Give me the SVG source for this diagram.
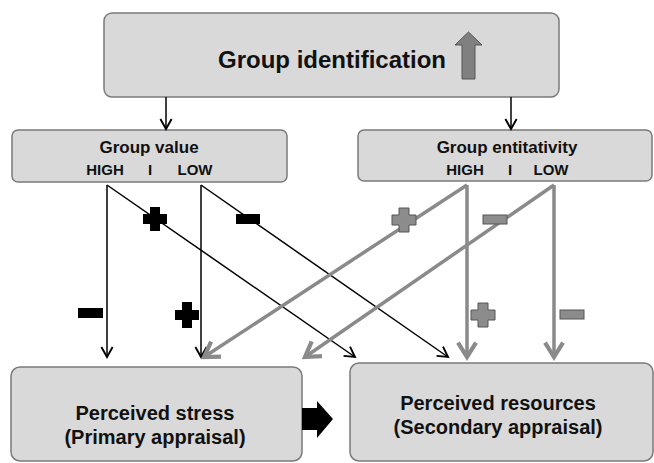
<svg xmlns="http://www.w3.org/2000/svg" width="654" height="463" viewBox="0 0 654 463">
<style>
.box{fill:#d9d9d9;stroke:#7a7a7a;stroke-width:1.5}
.t{font-family:"Liberation Sans",Arial,sans-serif;font-weight:bold;fill:#111;text-anchor:middle}
.bl{stroke:#000;stroke-width:1.5;fill:none}
.gr{stroke:#8a8a8a;stroke-width:3.5;fill:none}
.sb{fill:#000}
.sg{fill:#8c8c8c;stroke:#555;stroke-width:1}
</style>
<defs>
<marker id="ab" markerUnits="userSpaceOnUse" markerWidth="20" markerHeight="20" viewBox="-12 -8 14 16" refX="0" refY="0" orient="auto">
<path d="M-8,-4.5 L0,0 L-8,4.5" fill="none" stroke="#000" stroke-width="1.5"/>
</marker>
<marker id="ag" markerUnits="userSpaceOnUse" markerWidth="24" markerHeight="24" viewBox="-16 -10 18 20" refX="0" refY="0" orient="auto">
<path d="M-12,-7.5 L0,0 L-12,7.5" fill="none" stroke="#8a8a8a" stroke-width="3.5"/>
</marker>
</defs>

<g id="group-identification">
<rect class="box" x="104" y="13" width="455" height="84" rx="8"/>
<text class="t" x="332" y="68" font-size="24">Group identification</text>
<polygon points="462,79 475,79 475,45 482,45 468.5,32 455,45 462,45" fill="#808080" stroke="#555" stroke-width="1"/>
</g>

<g id="group-value">
<rect class="box" x="12" y="130" width="275" height="52" rx="6"/>
<text class="t" x="149" y="153" font-size="17">Group value</text>
<text class="t" x="105" y="175" font-size="15">HIGH</text>
<text class="t" x="150" y="175" font-size="15">I</text>
<text class="t" x="195" y="175" font-size="15">LOW</text>
</g>

<g id="group-entitativity">
<rect class="box" x="358" y="130" width="294" height="51" rx="6"/>
<text class="t" x="507" y="153" font-size="17">Group entitativity</text>
<text class="t" x="465" y="175" font-size="15">HIGH</text>
<text class="t" x="510" y="175" font-size="15">I</text>
<text class="t" x="551" y="175" font-size="15">LOW</text>
</g>

<g id="perceived-stress">
<rect class="box" x="11" y="367" width="291" height="94" rx="9"/>
<text class="t" x="155" y="420" font-size="20">Perceived stress</text>
<text class="t" x="155" y="444" font-size="20">(Primary appraisal)</text>
</g>

<g id="perceived-resources">
<rect class="box" x="350" y="363" width="303" height="98" rx="9"/>
<text class="t" x="498" y="410" font-size="20">Perceived resources</text>
<text class="t" x="498" y="434" font-size="20">(Secondary appraisal)</text>
</g>

<g id="connectors">
<line class="bl" x1="166" y1="97" x2="166" y2="129" marker-end="url(#ab)"/>
<line class="bl" x1="511" y1="97" x2="511" y2="129" marker-end="url(#ab)"/>
<line class="bl" x1="107" y1="185" x2="107" y2="357" marker-end="url(#ab)"/>
<line class="bl" x1="107" y1="185" x2="355" y2="357" marker-end="url(#ab)"/>
<line class="bl" x1="201" y1="185" x2="201" y2="357" marker-end="url(#ab)"/>
<line class="bl" x1="201" y1="185" x2="448" y2="357" marker-end="url(#ab)"/>
<line class="gr" x1="467" y1="185" x2="467" y2="357" marker-end="url(#ag)"/>
<line class="gr" x1="467" y1="185" x2="204" y2="357" marker-end="url(#ag)"/>
<line class="gr" x1="554" y1="185" x2="554" y2="357" marker-end="url(#ag)"/>
<line class="gr" x1="554" y1="185" x2="305" y2="357" marker-end="url(#ag)"/>
<polygon points="302,408 317,408 317,401 333,419 317,438 317,430 302,430" fill="#000"/>
</g>

<g id="signs">
<path class="sb" d="M150,207 h10 v7 h7 v10 h-7 v7 h-10 v-7 h-7 v-10 h7 z"/>
<rect class="sb" x="236" y="214" width="24" height="10"/>
<path class="sg" d="M399,208 h10 v7 h7 v10 h-7 v7 h-10 v-7 h-7 v-10 h7 z"/>
<rect class="sg" x="483" y="215" width="24" height="9"/>
<rect class="sb" x="78" y="308" width="25" height="10"/>
<path class="sb" d="M182,302 h10 v8 h7 v10 h-7 v8 h-10 v-8 h-7 v-10 h7 z"/>
<path class="sg" d="M478,303 h10 v7 h7 v10 h-7 v7 h-10 v-7 h-7 v-10 h7 z"/>
<rect class="sg" x="560" y="310" width="24" height="9"/>
</g>
</svg>
